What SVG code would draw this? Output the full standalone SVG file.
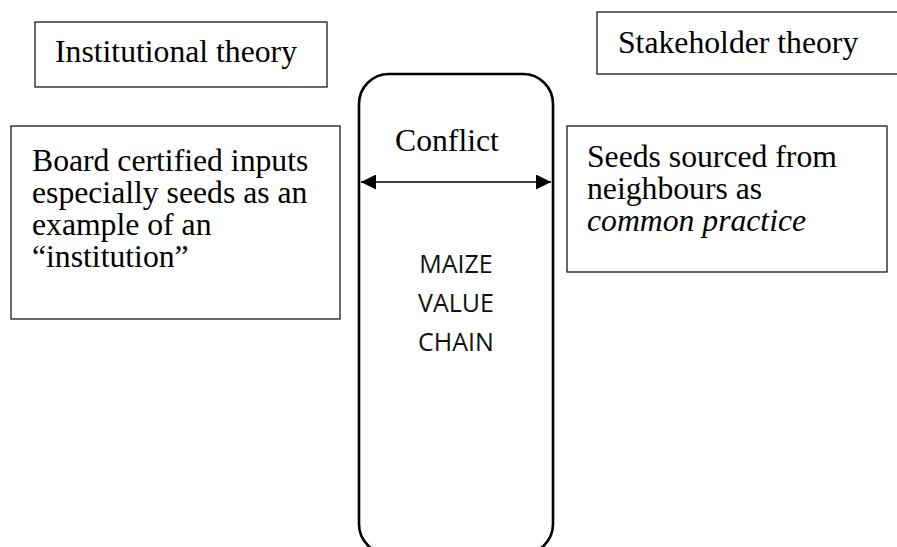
<svg xmlns="http://www.w3.org/2000/svg" width="897" height="547" viewBox="0 0 897 547">
  <style>
    .box { fill: #ffffff; stroke: #1a1a1a; stroke-width: 1.3; }
    .chain { fill: none; stroke: #000000; stroke-width: 2.6; }
    .serif { font-family: "Liberation Serif", "Times New Roman", serif; font-size: 31.7px; fill: #000000; }
    .sans { font-family: "Open Sans", "Liberation Sans", sans-serif; font-size: 25px; fill: #111111; }
    .link { stroke: #000000; stroke-width: 1.6; fill: none; }
  </style>
  <defs>
    <marker id="arrowEnd" viewBox="0 0 10 10" refX="10" refY="5" markerWidth="15" markerHeight="15" markerUnits="userSpaceOnUse" orient="auto">
      <path d="M0,0 L10,5 L0,10 Z" fill="#000000"/>
    </marker>
    <marker id="arrowStart" viewBox="0 0 10 10" refX="0" refY="5" markerWidth="15" markerHeight="15" markerUnits="userSpaceOnUse" orient="auto">
      <path d="M10,0 L0,5 L10,10 Z" fill="#000000"/>
    </marker>
  </defs>

  <rect width="897" height="547" fill="#ffffff"/>

  <!-- theory headings -->
  <g id="institutional-theory">
    <rect class="box" x="35" y="22" width="292" height="65"/>
    <text class="serif" x="55" y="62">Institutional theory</text>
  </g>
  <g id="stakeholder-theory">
    <rect class="box" x="597" y="12" width="320" height="62"/>
    <text class="serif" x="618" y="53">Stakeholder theory</text>
  </g>

  <!-- value chain column, runs off the bottom edge -->
  <g id="maize-value-chain">
    <rect class="chain" x="359" y="74" width="194" height="480" rx="30" ry="30"/>
    <text class="serif" x="395" y="151">Conflict</text>
    <text class="sans" x="456" y="273" text-anchor="middle">MAIZE</text>
    <text class="sans" x="456" y="312" text-anchor="middle">VALUE</text>
    <text class="sans" x="456" y="351" text-anchor="middle">CHAIN</text>
  </g>

  <!-- side boxes -->
  <g id="certified-inputs">
    <rect class="box" x="11" y="126" width="329" height="193"/>
    <text class="serif">
      <tspan x="32" y="171">Board certified inputs</tspan>
      <tspan x="32" y="203">especially seeds as an</tspan>
      <tspan x="32" y="235">example of an</tspan>
      <tspan x="32" y="267">“institution”</tspan>
    </text>
  </g>
  <g id="neighbour-seeds">
    <rect class="box" x="567" y="126" width="320" height="146"/>
    <text class="serif">
      <tspan x="587" y="167">Seeds sourced from</tspan>
      <tspan x="587" y="199">neighbours as</tspan>
      <tspan x="587" y="231" font-style="italic">common practice</tspan>
    </text>
  </g>

  <!-- connectors -->
  <g id="connectors">
    <line class="link" x1="361" y1="182" x2="551" y2="182" marker-start="url(#arrowStart)" marker-end="url(#arrowEnd)"/>
  </g>
</svg>
